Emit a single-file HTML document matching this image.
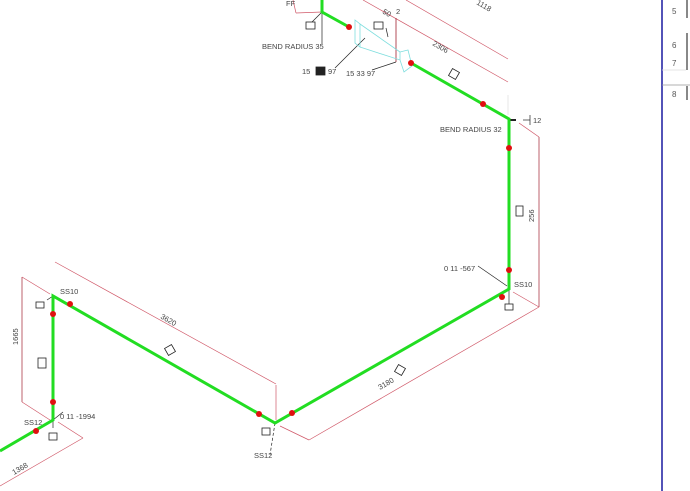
<!DOCTYPE html>
<html><head><meta charset="utf-8"><style>
html,body{margin:0;padding:0;background:#fff;}
svg{display:block;font-family:"Liberation Sans",sans-serif;}
</style></head><body>
<svg width="690" height="491" viewBox="0 0 690 491" xmlns="http://www.w3.org/2000/svg">
<rect width="690" height="491" fill="#fff"/>
<!-- dimension lines -->
<g stroke="#d05868" stroke-width="0.7" fill="none">
  <line x1="406" y1="0" x2="508" y2="59"/>
  <line x1="363" y1="0" x2="508" y2="82"/>
  <line x1="508" y1="95" x2="508" y2="115" stroke="#ddd"/>
  <line x1="519" y1="123" x2="539" y2="137"/>
  <line x1="539" y1="137" x2="539" y2="307" stroke="#a02030"/>
  <line x1="513" y1="292" x2="539" y2="307"/>
  <line x1="539" y1="307" x2="309" y2="440"/>
  <line x1="280" y1="426" x2="309" y2="440"/>
  <line x1="276" y1="385" x2="276" y2="420"/>
  <line x1="55" y1="262" x2="276" y2="384"/>
  <line x1="22" y1="277" x2="22" y2="402" stroke="#a02030"/>
  <line x1="22" y1="277" x2="50" y2="294"/>
  <line x1="22" y1="402" x2="50" y2="420"/>
  <line x1="58" y1="422" x2="83" y2="438"/>
  <line x1="83" y1="438" x2="0" y2="486"/>
  <line x1="293" y1="0" x2="296" y2="13"/>
  <line x1="296" y1="13" x2="322" y2="12"/>
</g>
<line x1="396" y1="18" x2="396" y2="62" stroke="#a02030" stroke-width="0.8"/>
<!-- black leaders -->
<g stroke="#222" stroke-width="0.7" fill="none">
  <line x1="322" y1="12" x2="322" y2="44"/>
  <line x1="322" y1="12" x2="312" y2="22"/>
  <line x1="365" y1="38" x2="335" y2="68"/>
  <line x1="386" y1="28" x2="388" y2="37"/>
  <line x1="396" y1="62" x2="372" y2="70"/>
  <line x1="478" y1="266" x2="507" y2="286"/>
  <line x1="509" y1="289" x2="509" y2="304"/>
  <line x1="275" y1="423" x2="270" y2="455" stroke-dasharray="3,2"/>
  <line x1="53" y1="420" x2="63" y2="412"/>
  <line x1="53" y1="420" x2="53" y2="428"/>
  <line x1="53" y1="296" x2="47" y2="300"/>
  <line x1="510" y1="120" x2="516" y2="120" stroke-width="2"/>
  <line x1="523" y1="120" x2="530" y2="120"/>
  <line x1="530" y1="115" x2="530" y2="125"/>
</g>
<!-- cyan reducers -->
<g stroke="#7fdede" stroke-width="0.8" fill="none">
  <path d="M355 20 L360 24 L360 47 L355 43 Z"/>
  <path d="M360 24 L400 52 L400 60 L360 47"/>
  <path d="M400 52 L408 50 L412 66 L404 72 L400 60"/>
</g>
<!-- green pipe -->
<g stroke="#22dd22" stroke-width="3" fill="none" stroke-linejoin="miter">
  <polyline points="322,0 322,12 349,27"/>
  <polyline points="411,63 509,119 509,289 275,423 53,296 53,420 0,451"/>
</g>
<!-- red dots -->
<g fill="#e01010">
  <circle cx="349" cy="27" r="3"/><circle cx="411" cy="63" r="3"/>
  <circle cx="483" cy="104" r="3"/><circle cx="509" cy="148" r="3"/>
  <circle cx="509" cy="270" r="3"/><circle cx="502" cy="297" r="3"/>
  <circle cx="292" cy="413" r="3"/><circle cx="259" cy="414" r="3"/>
  <circle cx="70" cy="304" r="3"/><circle cx="53" cy="314" r="3"/>
  <circle cx="53" cy="402" r="3"/><circle cx="36" cy="431" r="3"/>
</g>
<!-- tags -->
<g stroke="#222" stroke-width="0.8" fill="none">
  <rect x="306" y="22" width="9" height="7"/>
  <rect x="374" y="22" width="9" height="7"/>
  <rect x="316" y="67" width="9" height="8" fill="#222"/>
  <rect x="516" y="206" width="7" height="10"/>
  <rect x="36" y="302" width="8" height="6"/>
  <rect x="38" y="358" width="8" height="10"/>
  <rect x="49" y="433" width="8" height="7"/>
  <rect x="262" y="428" width="8" height="7"/>
  <rect x="505" y="304" width="8" height="6"/>
  <rect x="166" y="346" width="8" height="8" transform="rotate(-30 170 350)"/>
  <rect x="396" y="366" width="8" height="8" transform="rotate(30 400 370)"/>
  <rect x="450" y="70" width="8" height="8" transform="rotate(30 454 74)"/>
</g>
<!-- text labels -->
<g font-size="7.5" fill="#444">
  <text x="262" y="49">BEND  RADIUS  35</text>
  <text x="440" y="132">BEND  RADIUS  32</text>
  <text x="302" y="74">15</text><text x="328" y="74">97</text>
  <text x="346" y="76">15  33  97</text>
  <text x="533" y="123">12</text>
  <text x="444" y="271">0  11  -567</text>
  <text x="514" y="287">SS10</text>
  <text x="60" y="294">SS10</text>
  <text x="24" y="425">SS12</text>
  <text x="60" y="419">0  11  -1994</text>
  <text x="254" y="458">SS12</text>
  <text x="160" y="318" transform="rotate(30 160 318)">3620</text>
  <text x="432" y="45" transform="rotate(30 432 45)">2306</text>
  <text x="382" y="13" transform="rotate(30 382 13)">50</text>
  <text x="476" y="4" transform="rotate(30 476 4)">1118</text>
  <text x="534" y="222" transform="rotate(-90 534 222)">256</text>
  <text x="18" y="345" transform="rotate(-90 18 345)">1665</text>
  <text x="380" y="390" transform="rotate(-30 380 390)">3180</text>
  <text x="14" y="475" transform="rotate(-30 14 475)">1368</text>
  <text x="396" y="14">2</text>
  <text x="286" y="6">FF</text>
</g>
<!-- right panel -->
<line x1="662" y1="0" x2="662" y2="491" stroke="#1a1aa0" stroke-width="1.5"/>
<line x1="662" y1="85" x2="690" y2="85" stroke="#999" stroke-width="0.8"/>
<line x1="662" y1="70" x2="686" y2="70" stroke="#ddd" stroke-width="0.8"/>
<g stroke="#111" stroke-width="1">
  <line x1="687" y1="0" x2="687" y2="18"/>
  <line x1="687" y1="33" x2="687" y2="70"/>
  <line x1="687" y1="86" x2="687" y2="100"/>
</g>
<g font-size="8" fill="#555">
  <text x="672" y="14">5</text><text x="672" y="48">6</text>
  <text x="672" y="66">7</text><text x="672" y="97">8</text>
</g>
</svg>
</body></html>
